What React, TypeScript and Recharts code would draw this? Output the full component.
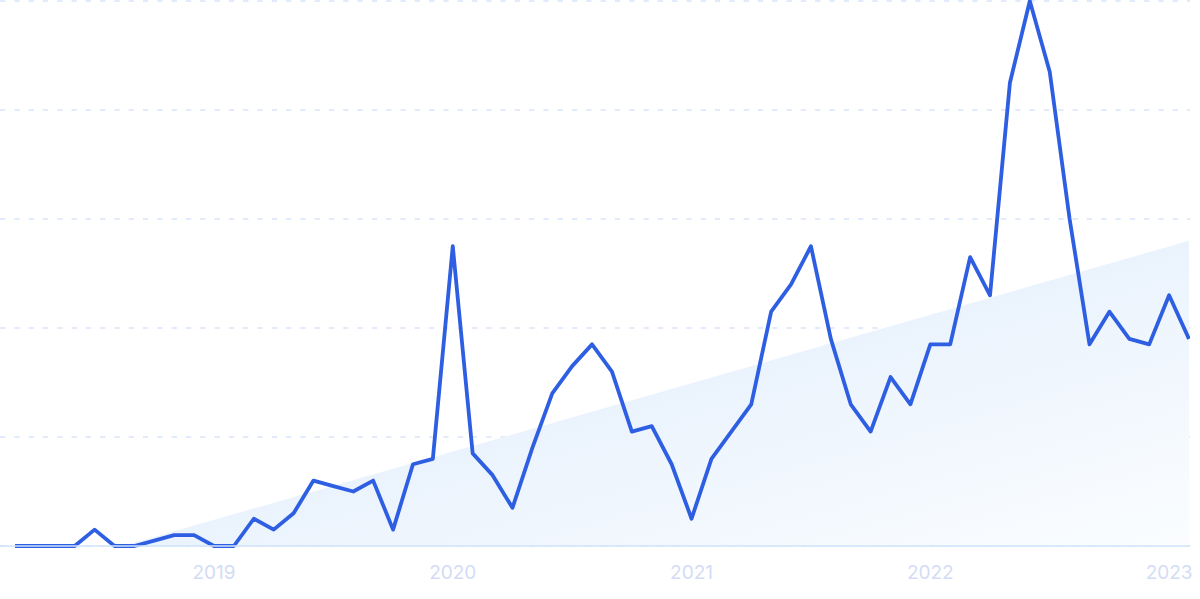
import React from 'react';
import { ComposedChart, Line, Area, XAxis, YAxis, CartesianGrid } from 'recharts';

// monthly index 0 = 2018-03 ... 59 = 2023-02
const interest: number[] = [
  0, 0, 0, 0, 3, 0, 0, 1, 2, 2,
  0, 0, 5, 3, 6, 12, 11, 10, 12, 3,
  15, 16, 55, 17, 13, 7, 18, 28, 33, 37,
  32, 21, 22, 15, 5, 16, 21, 26, 43, 48,
  55, 38, 26, 21, 31, 26, 37, 37, 53, 46,
  85, 100, 87, 60, 37, 43, 38, 37, 46, 38,
];

const trendIndex: number[] = [5.41, 59];
const trendValue: number[] = [0, 56];

const yearTickIndex: number[] = [10, 22, 34, 46, 58];
const yearTickLabels: string[] = ['2019', '2020', '2021', '2022', '2023'];

const yTicks: number[] = [0, 20, 40, 60, 80, 100];

const data = interest.map((v, i) => ({ i, v }));
const trendData = trendIndex.map((i, k) => ({ i, t: trendValue[k] }));

export default function App() {
  return (
    <div style={{ position: 'absolute', left: 0, top: 0 }}>
      <ComposedChart
        width={1200}
        height={599}
        data={data}
        margin={{ top: 1, right: 10, bottom: 0, left: 0 }}
      >
        <defs>
          <linearGradient id="trendFill" x1="0" y1="0" x2="1" y2="1">
            <stop offset="0%" stopColor="#dae9fb" />
            <stop offset="100%" stopColor="#fbfdff" />
          </linearGradient>
        </defs>
        <CartesianGrid
          vertical={false}
          stroke="#d9e5fb"
          strokeWidth={1.3}
          strokeDasharray="5.3 9"
        />
        <XAxis
          dataKey="i"
          type="number"
          domain={[-0.754, 59.05]}
          allowDataOverflow
          ticks={yearTickIndex}
          tickFormatter={(v: number) => yearTickLabels[yearTickIndex.indexOf(v)] ?? ''}
          tickLine={false}
          tickMargin={14}
          height={53}
          axisLine={{ stroke: '#cfe3fa', strokeWidth: 1.6 }}
          tick={{ fill: '#d3dcf5', fontSize: 19, fontFamily: 'Inter, sans-serif' }}
          interval={0}
        />
        <YAxis hide domain={[0, 100]} ticks={yTicks} width={0} />
        <Area
          data={trendData}
          dataKey="t"
          type="linear"
          stroke="none"
          fill="url(#trendFill)"
          fillOpacity={1}
          isAnimationActive={false}
          dot={false}
          activeDot={false}
        />
        <Line
          dataKey="v"
          type="linear"
          stroke="#2e5ee2"
          strokeWidth={3.8}
          dot={false}
          activeDot={false}
          isAnimationActive={false}
          strokeLinejoin="round"
        />
      </ComposedChart>
    </div>
  );
}
